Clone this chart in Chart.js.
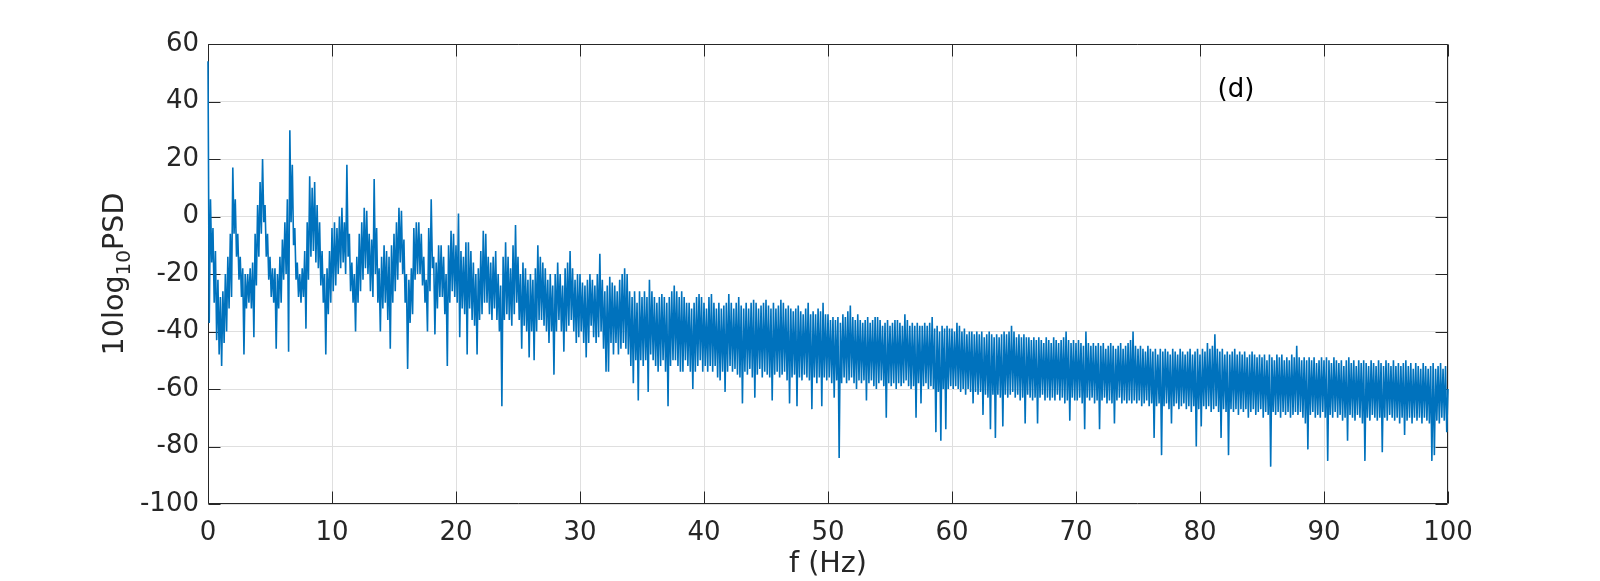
<!DOCTYPE html>
<html>
<head>
<meta charset="utf-8">
<script src="https://cdn.jsdelivr.net/npm/chart.js@4.4.1/dist/chart.umd.min.js"></script>
<style>
  html, body { margin: 0; padding: 0; background: #ffffff; }
  canvas { display: block; }
</style>
</head>
<body>
<canvas id="c" width="1600" height="581"></canvas>
<script>
// ---- data: band top / bottom (dB) in each 0.2 Hz bin ----
const binWidthHz = 0.2;
const xTicks = [0, 10, 20, 30, 40, 50, 60, 70, 80, 90, 100];
const yTicks = [-100, -80, -60, -40, -20, 0, 20, 40, 60];

const top0to10 = [54,6,-4,-12,-22,-28,-26,-20,-14,-6, 17,6,-6,-14,-18,-20,-20,-18,-16,-6, 4,12,20,4,-6,-14,-18,-18,-20,-14, -8,-2,6,30,18,-4,-16,-20,-18,-12, -2,14,10,12,4,-2,-12,-20,-18,-12];
const bottom0to10 = [-37,-16,-30,-43,-48,-52,-44,-40,-32,-28, -6,-14,-22,-28,-48,-32,-30,-32,-42,-24, -14,-6,-2,-14,-22,-28,-30,-46,-32,-30, -22,-20,-47,-2,-10,-22,-28,-30,-28,-39, -22,-14,-12,-16,-18,-24,-30,-48,-34,-30];
const top10to20 = [-4,-2,-4,0,3,-2,18,-6,-16,-20, -14,-6,-2,3,2,-6,-8,13,-4,-18, -14,-10,-12,-14,-10,-6,-2,3,2,-8, -20,-22,-18,-4,-2,-2,-6,-14,-22,-4, 6,-14,-16,-10,-10,-14,-20,-10,-5,-6];
const bottom10to20 = [-26,-24,-20,-18,-16,-20,-14,-26,-30,-40, -30,-26,-22,-18,-20,-26,-28,-20,-30,-40, -32,-30,-36,-46,-30,-26,-22,-16,-20,-30, -53,-37,-34,-22,-20,-20,-24,-30,-40,-26, -18,-41,-32,-28,-28,-34,-52,-30,-26,-28];
const top20to30 = [-10,1,-12,-14,-9,-9,-12,-16,-20,-18, -12,-5,-6,-14,-16,-14,-12,-20,-24,-14, -9,-14,-18,-10,-3,-14,-20,-16,-18,-22, -20,-22,-18,-10,-14,-16,-18,-22,-20,-24, -20,-16,-20,-24,-18,-16,-12,-18,-22,-20];
const bottom20to30 = [-30,-42,-32,-34,-48,-32,-36,-38,-48,-36, -34,-30,-30,-34,-36,-32,-36,-40,-66,-36, -34,-36,-38,-34,-30,-36,-46,-38,-40,-49, -40,-50,-40,-36,-36,-38,-40,-44,-40,-55, -40,-36,-40,-47,-40,-38,-36,-40,-44,-42];
const top30to40 = [-20,-23,-24,-22,-20,-22,-24,-20,-13,-22, -26,-24,-21,-23,-24,-26,-22,-20,-18,-20, -26,-28,-26,-30,-26,-28,-26,-28,-22,-26, -28,-30,-28,-27,-28,-30,-28,-26,-24,-26, -28,-26,-28,-30,-30,-32,-30,-28,-27,-28];
const bottom30to40 = [-40,-44,-49,-44,-38,-42,-44,-42,-40,-46, -54,-54,-44,-48,-44,-48,-46,-44,-46,-48, -52,-58,-50,-64,-50,-52,-50,-61,-48,-50, -52,-54,-52,-50,-54,-66,-52,-50,-50,-52, -54,-54,-50,-52,-54,-60,-54,-52,-50,-54];
const top40to50 = [-30,-32,-28,-27,-30,-32,-30,-32,-31,-30, -27,-30,-32,-30,-28,-31,-32,-30,-32,-30, -29,-30,-32,-31,-30,-29,-31,-32,-30,-32, -31,-29,-30,-32,-31,-32,-33,-32,-31,-33, -34,-32,-30,-34,-33,-34,-32,-33,-30,-34];
const bottom40to50 = [-52,-54,-52,-54,-52,-56,-57,-54,-61,-54, -52,-54,-53,-55,-56,-65,-54,-55,-53,-56, -63,-55,-53,-56,-54,-55,-56,-64,-55,-54, -56,-55,-54,-57,-65,-56,-55,-66,-56,-57, -55,-56,-57,-67,-56,-58,-56,-66,-56,-57];
const top50to60 = [-34,-36,-35,-36,-35,-37,-34,-35,-33,-31, -35,-36,-34,-36,-37,-36,-35,-37,-36,-35, -35,-36,-38,-37,-36,-38,-37,-36,-36,-37, -38,-34,-36,-38,-37,-38,-37,-38,-38,-37, -38,-37,-35,-39,-38,-40,-38,-39,-38,-39];
const bottom50to60 = [-56,-58,-63,-57,-84,-58,-56,-58,-57,-56, -58,-60,-57,-58,-57,-64,-58,-57,-59,-60, -58,-57,-59,-70,-58,-59,-58,-60,-58,-59, -58,-57,-59,-60,-59,-70,-58,-65,-59,-58, -60,-59,-60,-75,-61,-78,-60,-74,-60,-59];
const top60to70 = [-39,-40,-37,-38,-40,-39,-41,-40,-40,-41, -40,-41,-40,-42,-41,-40,-41,-42,-41,-42, -41,-40,-41,-40,-38,-40,-42,-41,-42,-41, -42,-42,-43,-42,-43,-42,-43,-44,-42,-43, -44,-42,-43,-44,-43,-42,-40,-43,-44,-43];
const bottom60to70 = [-60,-59,-60,-61,-60,-62,-60,-61,-65,-61, -62,-61,-69,-62,-63,-74,-62,-77,-62,-63, -73,-62,-63,-62,-61,-63,-62,-64,-63,-72, -62,-63,-64,-63,-72,-63,-62,-64,-63,-64, -63,-64,-62,-64,-63,-65,-64,-71,-63,-64];
const top70to80 = [-44,-43,-44,-45,-40,-44,-45,-44,-45,-44, -45,-44,-46,-45,-44,-45,-46,-45,-44,-46, -45,-44,-43,-40,-45,-46,-45,-46,-47,-45, -46,-47,-46,-48,-46,-47,-46,-47,-48,-46, -47,-48,-46,-47,-48,-47,-46,-48,-47,-46];
const bottom70to80 = [-64,-63,-65,-74,-63,-64,-63,-65,-64,-74, -64,-63,-65,-64,-65,-72,-64,-63,-65,-64, -65,-64,-65,-64,-65,-64,-66,-65,-64,-66, -65,-77,-66,-65,-83,-66,-65,-67,-72,-66, -65,-67,-66,-65,-67,-66,-68,-66,-80,-67];
const top80to90 = [-48,-46,-47,-44,-46,-45,-41,-46,-47,-46, -48,-47,-48,-47,-46,-48,-47,-48,-47,-49, -48,-47,-48,-49,-48,-49,-48,-50,-48,-49, -50,-48,-49,-48,-50,-49,-50,-48,-49,-45, -49,-50,-49,-50,-49,-50,-49,-51,-50,-49];
const bottom80to90 = [-73,-66,-67,-66,-68,-67,-66,-68,-77,-67, -68,-83,-67,-68,-67,-69,-67,-68,-67,-70, -68,-67,-69,-68,-67,-70,-68,-69,-87,-68, -69,-68,-70,-68,-69,-68,-70,-69,-68,-69, -68,-70,-72,-81,-69,-68,-70,-69,-70,-68];
const top90to100 = [-50,-49,-50,-51,-49,-50,-51,-50,-52,-50, -49,-51,-50,-52,-50,-51,-50,-51,-52,-50, -51,-52,-50,-51,-52,-50,-51,-52,-50,-52, -51,-52,-51,-50,-52,-51,-53,-51,-52,-53, -51,-52,-53,-52,-51,-53,-52,-51,-53,-52];
const bottom90to100 = [-70,-85,-69,-70,-68,-70,-69,-71,-70,-78, -69,-70,-71,-69,-70,-72,-85,-70,-71,-69, -70,-71,-70,-82,-70,-71,-69,-70,-71,-70, -72,-70,-76,-71,-70,-72,-70,-71,-70,-72, -70,-71,-72,-85,-83,-71,-72,-70,-71,-75];
const valueAt100Hz = -60;

const panelLabel = '(d)';
const panelLabelAt = { f: 82.9, db: 44 };
const xTitle = 'f (Hz)';
const yTitleParts = ['10log', '10', 'PSD'];   // "10" is a subscript

const bandTop = [].concat(top0to10, top10to20, top20to30, top30to40, top40to50,
  top50to60, top60to70, top70to80, top80to90, top90to100);
const bandBottom = [].concat(bottom0to10, bottom10to20, bottom20to30, bottom30to40, bottom40to50,
  bottom50to60, bottom60to70, bottom70to80, bottom80to90, bottom90to100);
const points = [];
bandTop.forEach((t, i) => {
  const f0 = i * binWidthHz;
  points.push({ x: +f0.toFixed(2), y: t });
  points.push({ x: +(f0 + binWidthHz / 2).toFixed(2), y: bandBottom[i] });
});
points.push({ x: 100, y: valueAt100Hz });

const FONT = '"DejaVu Sans", sans-serif';
const AXIS_COLOR = '#262626';
const TICK_SIZE = 26;
const LABEL_SIZE = 28.6;

const matlabBox = {
  id: 'matlabBox',
  // axes box + inward ticks go underneath the data, like MATLAB
  beforeDatasetsDraw(chart) {
    const { ctx, chartArea: a, scales: { x, y } } = chart;
    const crisp = v => Math.round(v) + 0.5;
    const L = crisp(a.left), R = crisp(a.right) - 1, T = crisp(a.top), B = crisp(a.bottom) - 1;
    const tl = 12;
    ctx.save();
    ctx.strokeStyle = AXIS_COLOR;
    ctx.lineWidth = 1;
    ctx.beginPath();
    ctx.rect(L, T, R - L, B - T);
    x.ticks.forEach(t => {
      const px = crisp(x.getPixelForValue(t.value));
      ctx.moveTo(px, B); ctx.lineTo(px, B - tl);
      ctx.moveTo(px, T); ctx.lineTo(px, T + tl);
    });
    y.ticks.forEach(t => {
      const py = crisp(y.getPixelForValue(t.value));
      ctx.moveTo(L, py); ctx.lineTo(L + tl, py);
      ctx.moveTo(R, py); ctx.lineTo(R - tl, py);
    });
    ctx.stroke();
    ctx.restore();
  },
  afterDraw(chart) {
    const { ctx, chartArea: a, scales: { x, y } } = chart;
    ctx.save();
    // panel label
    ctx.fillStyle = '#000000';
    ctx.font = TICK_SIZE + 'px ' + FONT;
    ctx.textAlign = 'center';
    ctx.textBaseline = 'middle';
    ctx.fillText(panelLabel, x.getPixelForValue(panelLabelAt.f), y.getPixelForValue(panelLabelAt.db));

    // y-axis title with a real subscript
    const fMain = LABEL_SIZE + 'px ' + FONT, fSub = '20px ' + FONT;
    ctx.font = fMain;
    const w1 = ctx.measureText(yTitleParts[0]).width;
    const w3 = ctx.measureText(yTitleParts[2]).width;
    ctx.font = fSub;
    const w2 = ctx.measureText(yTitleParts[1]).width;
    ctx.translate(a.left - 85, (a.top + a.bottom) / 2);
    ctx.rotate(-Math.PI / 2);
    ctx.fillStyle = AXIS_COLOR;
    ctx.textAlign = 'left';
    ctx.textBaseline = 'alphabetic';
    let x0 = -(w1 + w2 + w3) / 2;
    ctx.font = fMain; ctx.fillText(yTitleParts[0], x0, 0);
    ctx.font = fSub;  ctx.fillText(yTitleParts[1], x0 + w1, 7);
    ctx.font = fMain; ctx.fillText(yTitleParts[2], x0 + w1 + w2, 0);
    ctx.restore();
  }
};

Chart.defaults.font.family = FONT;
Chart.defaults.color = AXIS_COLOR;

new Chart(document.getElementById('c'), {
  type: 'line',
  data: {
    datasets: [{
      data: points,
      borderColor: '#0072BD',
      borderWidth: 1.6,
      pointRadius: 0,
      tension: 0,
      fill: false,
      clip: 2
    }]
  },
  options: {
    responsive: false,
    animation: false,
    devicePixelRatio: 1,
    layout: { padding: { left: 0, top: 44, right: 152, bottom: 0 } },
    plugins: { legend: { display: false }, tooltip: { enabled: false } },
    scales: {
      x: {
        type: 'linear',
        min: 0, max: 100,
        afterBuildTicks: s => { s.ticks = xTicks.map(v => ({ value: v })); },
        afterFit: s => { s.height = 77; },
        grid: { color: '#dfdfdf', drawTicks: false },
        border: { display: false },
        ticks: { padding: 14, font: { size: TICK_SIZE }, color: AXIS_COLOR, maxRotation: 0 },
        title: { display: true, text: xTitle, font: { size: LABEL_SIZE }, color: AXIS_COLOR, padding: { top: 0, bottom: -1 } }
      },
      y: {
        type: 'linear',
        min: -100, max: 60,
        afterBuildTicks: s => { s.ticks = yTicks.map(v => ({ value: v })); },
        afterFit: s => { s.width = 208; },
        grid: { color: '#dfdfdf', drawTicks: false },
        border: { display: false },
        ticks: { padding: 9, font: { size: TICK_SIZE }, color: AXIS_COLOR }
      }
    }
  },
  plugins: [matlabBox]
});
</script>
</body>
</html>
